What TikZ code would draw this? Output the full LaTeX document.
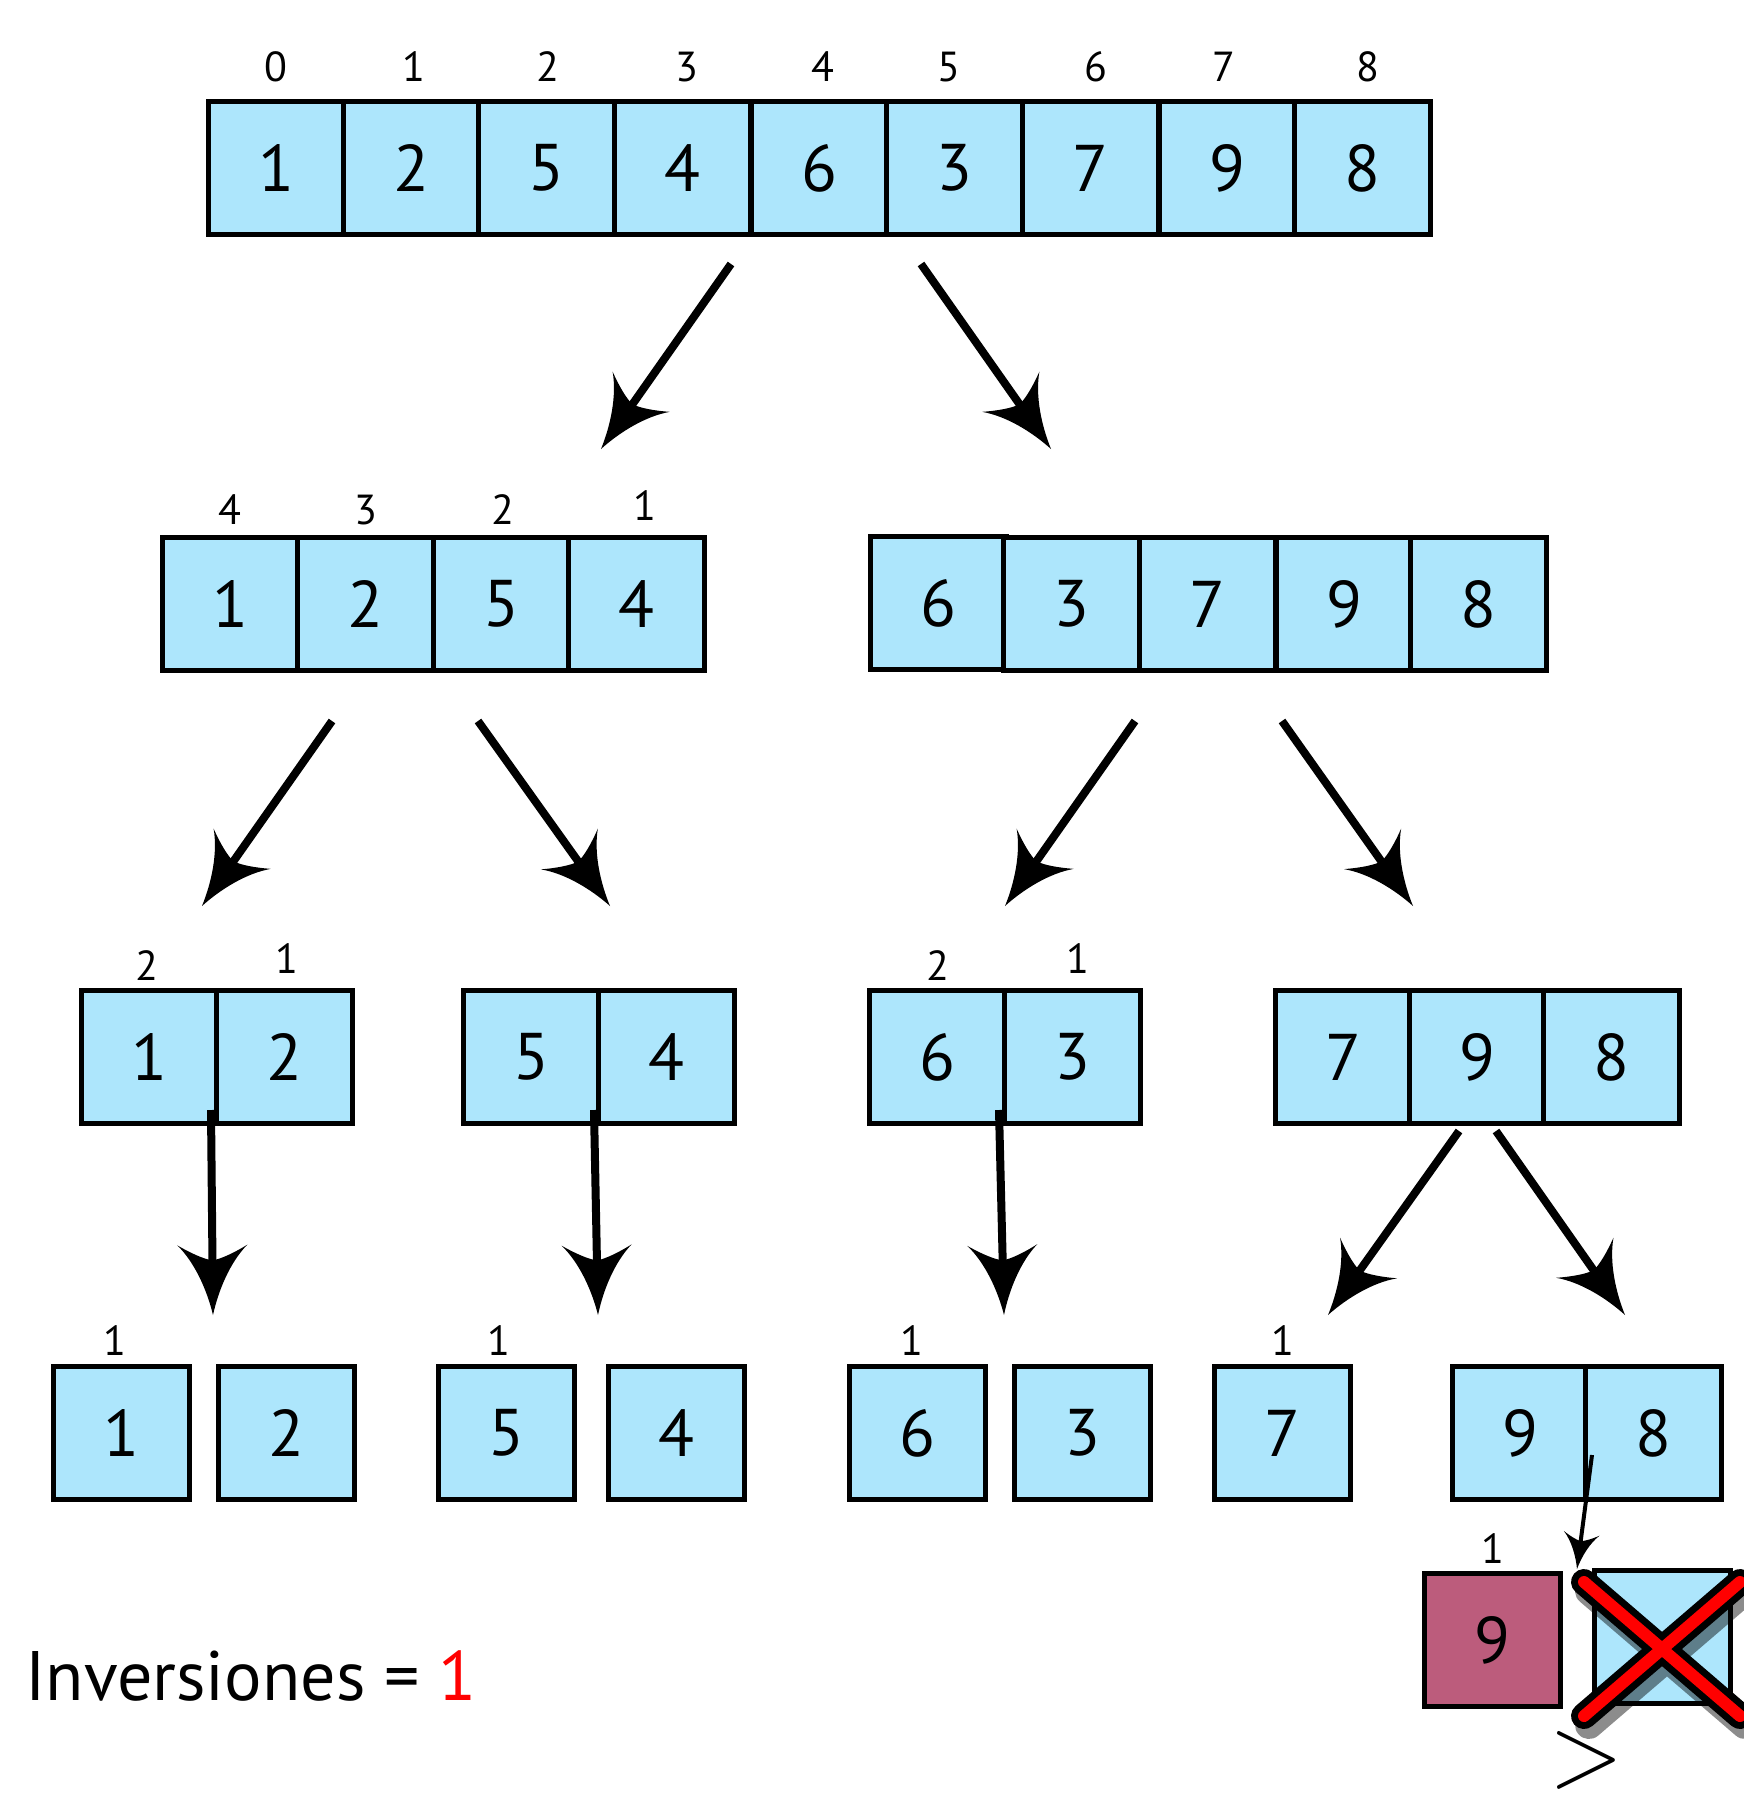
\documentclass[tikz,border=0pt]{standalone}
\usepackage{fontspec}
\setmainfont{PT Sans}
\usepackage{xcolor}
\usetikzlibrary{arrows.meta}
\definecolor{cellblue}{RGB}{173,230,252}
\definecolor{cellrose}{RGB}{188,92,124}
\pgfdeclarearrow{
  name=Horn,
  parameters={\the\pgfarrowlength,\the\pgfarrowwidth},
  setup code={
    \pgfarrowssettipend{0pt}
    \pgfarrowssetlineend{-.6\pgfarrowlength}
    \pgfarrowssetbackend{-\pgfarrowlength}
    \pgfarrowssetvisualbackend{-.78\pgfarrowlength}
    \pgfarrowsupperhullpoint{0pt}{0pt}
    \pgfarrowsupperhullpoint{-\pgfarrowlength}{.5\pgfarrowwidth}
    \pgfarrowssavethe\pgfarrowlength
    \pgfarrowssavethe\pgfarrowwidth
  },
  drawing code={
    \pgfpathmoveto{\pgfpointorigin}
    \pgfpathcurveto{\pgfpoint{-.35\pgfarrowlength}{.08\pgfarrowwidth}}{\pgfpoint{-.75\pgfarrowlength}{.25\pgfarrowwidth}}{\pgfpoint{-\pgfarrowlength}{.5\pgfarrowwidth}}
    \pgfpathcurveto{\pgfpoint{-.88\pgfarrowlength}{.3\pgfarrowwidth}}{\pgfpoint{-.8\pgfarrowlength}{.12\pgfarrowwidth}}{\pgfpoint{-.78\pgfarrowlength}{0pt}}
    \pgfpathcurveto{\pgfpoint{-.8\pgfarrowlength}{-.12\pgfarrowwidth}}{\pgfpoint{-.88\pgfarrowlength}{-.3\pgfarrowwidth}}{\pgfpoint{-\pgfarrowlength}{-.5\pgfarrowwidth}}
    \pgfpathcurveto{\pgfpoint{-.75\pgfarrowlength}{-.25\pgfarrowwidth}}{\pgfpoint{-.35\pgfarrowlength}{-.08\pgfarrowwidth}}{\pgfpointorigin}
    \pgfpathclose
    \pgfusepathqfill
  },
  defaults={length=35pt,width=35pt}
}
\begin{document}
\begin{tikzpicture}[x=0.5pt,y=-0.5pt,
  cell/.style={draw,line width=2.5pt,fill=cellblue,minimum width=68pt,minimum height=66.5pt,inner sep=0pt,font=\fontsize{33}{36}\selectfont},
  idx/.style={inner sep=0pt,font=\fontsize{21}{24}\selectfont},
  splitarrow/.style={line width=4pt,-{Horn[length=35pt,width=35pt]}},
  smallarrow/.style={line width=2pt,-{Horn[length=18pt,width=18pt]}}]
\useasboundingbox (0,0) rectangle (1744,1820);
\clip (0,0) rectangle (1744,1820);
\node[cell] (t1) at (276,168) {1};
\node[cell] (t2) at (411,168) {2};
\node[cell] (t3) at (546,168) {5};
\node[cell] (t4) at (682,168) {4};
\node[cell] (t5) at (819,168) {6};
\node[cell] (t6) at (954,168) {3};
\node[cell] (t7) at (1090,168) {7};
\node[cell] (t8) at (1227,168) {9};
\node[cell] (t9) at (1362,168) {8};
\node[idx] (i0) at (276,67) {0};
\node[idx] (i1) at (414,67) {1};
\node[idx] (i2) at (548,67) {2};
\node[idx] (i3) at (687,67) {3};
\node[idx] (i4) at (823,67) {4};
\node[idx] (i5) at (949,67) {5};
\node[idx] (i6) at (1096,67) {6};
\node[idx] (i7) at (1224,67) {7};
\node[idx] (i8) at (1368,67) {8};
\node[cell] (l1) at (230,604) {1};
\node[cell] (l2) at (365,604) {2};
\node[cell] (l3) at (501,604) {5};
\node[cell] (l4) at (636,604) {4};
\node[idx] (li1) at (230,510) {4};
\node[idx] (li2) at (366,510) {3};
\node[idx] (li3) at (503,510) {2};
\node[idx] (li4) at (645,506) {1};
\node[cell] (r1) at (938,603) {6};
\node[cell] (r2) at (1071,604) {3};
\node[cell] (r3) at (1207,604) {7};
\node[cell] (r4) at (1344,604) {9};
\node[cell] (r5) at (1478,604) {8};
\node[cell] (a1) at (149,1057) {1};
\node[cell] (a2) at (284,1057) {2};
\node[cell] (b1) at (531,1057) {5};
\node[cell] (b2) at (666,1057) {4};
\node[cell] (c1) at (937,1057) {6};
\node[cell] (c2) at (1072,1057) {3};
\node[cell] (d1) at (1343,1057) {7};
\node[cell] (d2) at (1477,1057) {9};
\node[cell] (d3) at (1611,1057) {8};
\node[idx] (ai1) at (147,966) {2};
\node[idx] (ai2) at (287,959) {1};
\node[idx] (ci1) at (938,966) {2};
\node[idx] (ci2) at (1078,959) {1};
\node[cell] (e1) at (121,1433) {1};
\node[cell] (e2) at (286,1433) {2};
\node[cell] (e3) at (506,1433) {5};
\node[cell] (e4) at (676,1433) {4};
\node[cell] (e5) at (917,1433) {6};
\node[cell] (e6) at (1082,1433) {3};
\node[cell] (e7) at (1282,1433) {7};
\node[cell] (e8) at (1520,1433) {9};
\node[cell] (e9) at (1653,1433) {8};
\node[idx] (ei1) at (115,1341) {1};
\node[idx] (ei3) at (499,1341) {1};
\node[idx] (ei5) at (912,1341) {1};
\node[idx] (ei7) at (1283,1341) {1};
\node[cell,fill=cellrose] (m1) at (1492,1640) {9};
\node[idx] (mi) at (1493,1549) {1};
\node[cell] (x1) at (1662,1637) {};
\draw[line width=14pt,black,opacity=.45,line cap=round,shift={(5,9)}](1584,1582)--(1740,1716) (1584,1716)--(1740,1582);
\draw[line width=13pt,black,line cap=round](1584,1582)--(1740,1716) (1584,1716)--(1740,1582);
\draw[line width=6pt,red,line cap=round](1584,1582)--(1740,1716) (1584,1716)--(1740,1582);
\node[inner sep=0pt,font=\fontsize{24.88}{26}\selectfont] (gt) at (1586,1760) {\scalebox{1.95}[2.1]{$>$}};
\node[anchor=base west,inner sep=0pt,font=\fontsize{35}{40}\selectfont] (inv) at (25,1700) {Inversiones = \textcolor{red}{1}};
\coordinate (p1s) at (731,264);
\coordinate (p1e) at (601,449);
\coordinate (p2s) at (921,264);
\coordinate (p2e) at (1051,449);
\coordinate (p3s) at (332,721);
\coordinate (p3e) at (202,906);
\coordinate (p4s) at (478,721);
\coordinate (p4e) at (610,906);
\coordinate (p5s) at (1135,721);
\coordinate (p5e) at (1005,906);
\coordinate (p6s) at (1282,721);
\coordinate (p6e) at (1413,906);
\coordinate (p7s) at (211,1110);
\coordinate (p7e) at (213,1315);
\coordinate (p8s) at (594,1110);
\coordinate (p8e) at (598,1315);
\coordinate (p9s) at (999,1110);
\coordinate (p9e) at (1004,1315);
\coordinate (p10s) at (1459,1131);
\coordinate (p10e) at (1328,1315);
\coordinate (p11s) at (1496,1131);
\coordinate (p11e) at (1625,1315);
\coordinate (p12s) at (1592,1455);
\coordinate (p12e) at (1577,1569);
\draw[splitarrow](p1s)--(p1e);
\draw[splitarrow](p2s)--(p2e);
\draw[splitarrow](p3s)--(p3e);
\draw[splitarrow](p4s)--(p4e);
\draw[splitarrow](p5s)--(p5e);
\draw[splitarrow](p6s)--(p6e);
\draw[splitarrow](p7s)--(p7e);
\draw[splitarrow](p8s)--(p8e);
\draw[splitarrow](p9s)--(p9e);
\draw[splitarrow](p10s)--(p10e);
\draw[splitarrow](p11s)--(p11e);
\draw[smallarrow](p12s)--(p12e);
\end{tikzpicture}
\end{document}
